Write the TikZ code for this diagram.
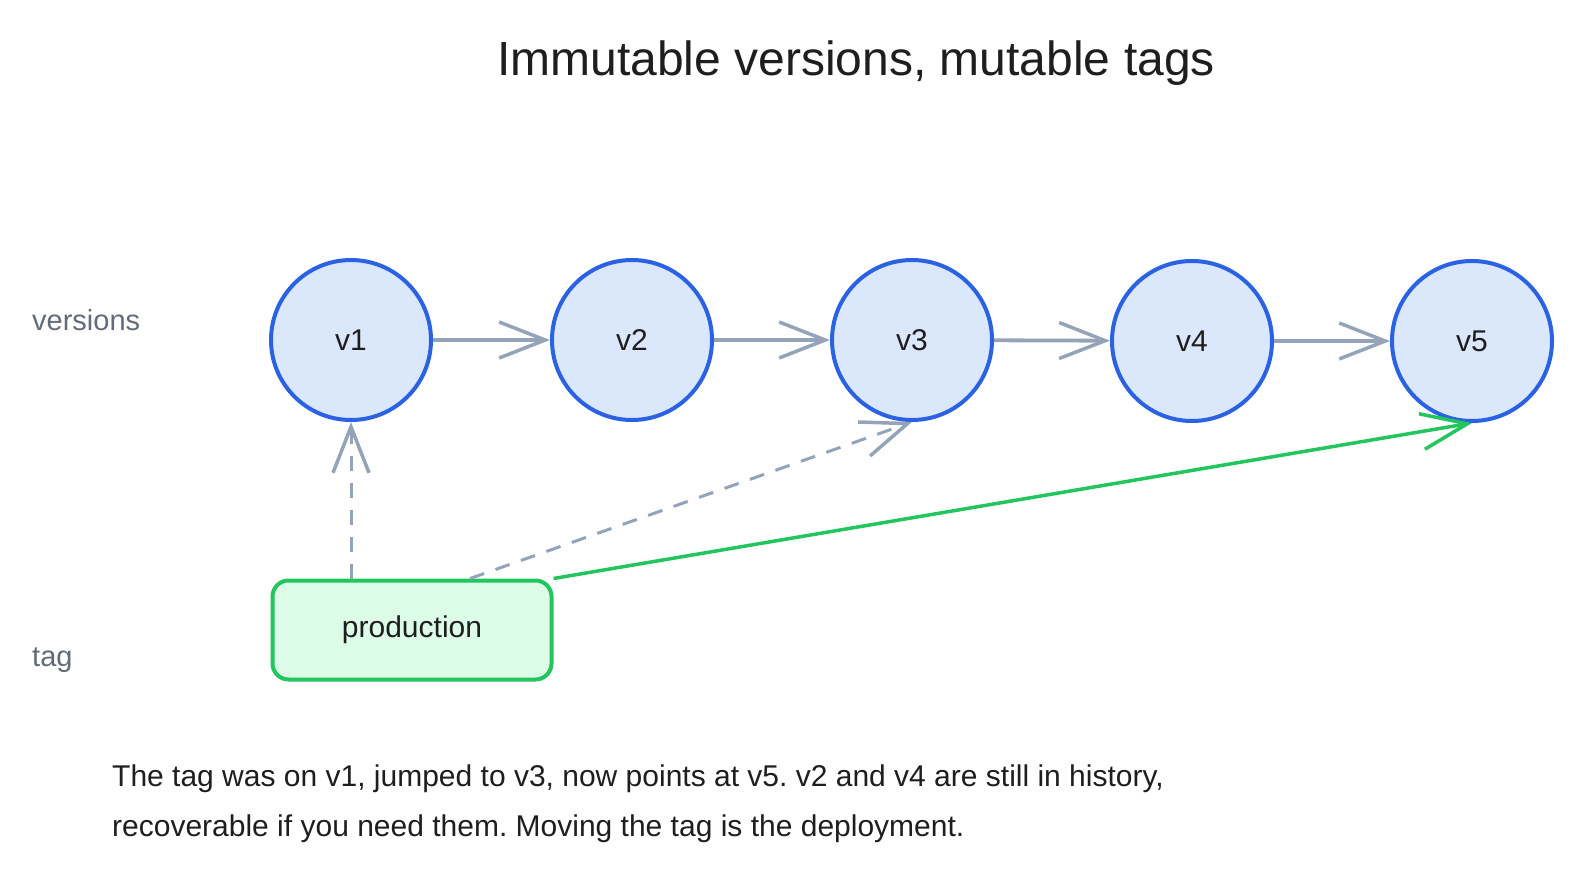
\documentclass[tikz,border=0pt]{standalone}
\usepackage{fontspec}
\setmainfont{Liberation Sans}
\usetikzlibrary{arrows.meta}
\definecolor{vstroke}{HTML}{2B62E3}
\definecolor{vfill}{HTML}{DBE8FC}
\definecolor{gline}{HTML}{94A3B8}
\definecolor{glabel}{HTML}{646B78}
\definecolor{grn}{HTML}{22C55E}
\definecolor{grnfill}{HTML}{DCFCE7}
\definecolor{ink}{HTML}{1E1E1E}
\tikzset{
  ver/.style={circle, draw=vstroke, fill=vfill, line width=4pt, minimum size=160pt, inner sep=0pt, text=ink, font=\fontsize{30}{30}\selectfont},
  tagbox/.style={rectangle, rounded corners=16pt, draw=grn, fill=grnfill, line width=4pt, minimum width=279pt, minimum height=99pt, text=ink, font=\fontsize{30}{30}\selectfont},
  rowlabel/.style={anchor=west, text=glabel, font=\fontsize{29}{29}\selectfont, inner sep=0pt},
  tip/.style={-{Straight Barb[length=46pt,width=36pt,line width=3.5pt]}},
  chain/.style={draw=gline, line width=3.8pt, tip},
  oldptr/.style={draw=gline, line width=3pt, dash pattern=on 15pt off 12pt, tip},
  newptr/.style={draw=grn, line width=3.5pt, tip},
  note/.style={anchor=west, text=ink, font=\fontsize{30}{30}\selectfont, inner sep=0pt},
}
\frenchspacing
\begin{document}
\begin{tikzpicture}[x=1pt,y=-1pt]
\useasboundingbox (0,0) rectangle (1587,875);
\node[font=\fontsize{48}{48}\selectfont, text=ink] (title) at (856,63) {Immutable versions, mutable tags};
\node[rowlabel] (lv) at (32,320) {versions};
\node[rowlabel] (lt) at (32,660) {tag};
\node[ver] (v1) at (351,340) {v1};
\node[ver] (v2) at (632,340) {v2};
\node[ver] (v3) at (912,340) {v3};
\node[ver] (v4) at (1192,341) {v4};
\node[ver] (v5) at (1472,341) {v5};
\node[tagbox] (prod) at (412,630) {production};
\draw[chain] (v1) -- (v2);
\draw[chain] (v2) -- (v3);
\draw[chain] (v3) -- (v4);
\draw[chain] (v4) -- (v5);
\draw[oldptr] (v1.south |- prod.north) -- (v1.south);
\draw[oldptr] ([xshift=58pt]prod.north) -- (v3.south);
\draw[newptr] (prod.north east) -- (v5.south);
\node[note] (note1) at (112,779) {The tag was on v1, jumped to v3, now points at v5. v2 and v4 are still in history,};
\node[note] (note2) at (112,829) {recoverable if you need them. Moving the tag is the deployment.};
\end{tikzpicture}
\end{document}
